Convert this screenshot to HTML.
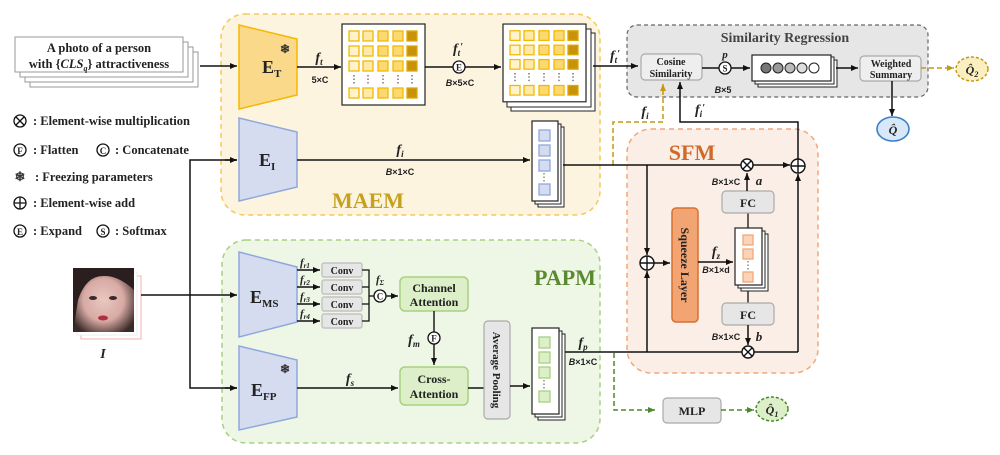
<!DOCTYPE html>
<html><head><meta charset="utf-8"><style>
html,body{margin:0;padding:0;background:#fff;width:1000px;height:455px;overflow:hidden}
svg text{font-family:"Liberation Serif",serif;font-weight:bold;fill:#222}
</style></head><body>
<svg width="1000" height="455" viewBox="0 0 1000 455" xmlns="http://www.w3.org/2000/svg">
<defs>
<marker id="ar" markerWidth="8" markerHeight="8" refX="7" refY="4" orient="auto" markerUnits="userSpaceOnUse"><path d="M0,1 L7,4 L0,7 z" fill="#111"/></marker>
<marker id="ag" markerWidth="8" markerHeight="8" refX="7" refY="4" orient="auto" markerUnits="userSpaceOnUse"><path d="M0,1 L7,4 L0,7 z" fill="#c39a10"/></marker>
<marker id="agr" markerWidth="8" markerHeight="8" refX="7" refY="4" orient="auto" markerUnits="userSpaceOnUse"><path d="M0,1 L7,4 L0,7 z" fill="#4a8a2a"/></marker>
</defs>

<!-- regions -->
<rect x="221" y="14" width="379" height="201" rx="24" fill="#fdf4df" stroke="#f5c85a" stroke-width="1.5" stroke-dasharray="5,4"/>
<rect x="222" y="240" width="378" height="203" rx="24" fill="#eef6e6" stroke="#a8d080" stroke-width="1.5" stroke-dasharray="5,4"/>
<rect x="627" y="129" width="191" height="244" rx="24" fill="#fbeee6" stroke="#f0a878" stroke-width="1.5" stroke-dasharray="5,4"/>
<rect x="627" y="25" width="301" height="72" rx="10" fill="#e6e6e6" stroke="#666" stroke-width="1.2" stroke-dasharray="4,3"/>

<text x="368" y="208" font-size="22" style="fill:#c8a020" text-anchor="middle">MAEM</text>
<text x="565" y="285" font-size="22" style="fill:#5a8a30" text-anchor="middle">PAPM</text>
<text x="692" y="160" font-size="22" style="fill:#d06a2a" text-anchor="middle">SFM</text>
<text x="785" y="42" font-size="14" style="fill:#444" text-anchor="middle">Similarity Regression</text>

<!-- text prompt stack -->
<rect x="30" y="52" width="168" height="35" fill="#fff" stroke="#999"/>
<rect x="25" y="47" width="168" height="35" fill="#fff" stroke="#999"/>
<rect x="20" y="42" width="168" height="35" fill="#fff" stroke="#999"/>
<rect x="15" y="37" width="168" height="35" fill="#fff" stroke="#999"/>
<text x="99" y="52" font-size="12.5" text-anchor="middle">A photo of a person</text>
<text x="99" y="68" font-size="12.5" text-anchor="middle">with {<tspan font-style="italic">CLS</tspan><tspan font-size="8" font-style="italic" dy="3">q</tspan><tspan dy="-3">} attractiveness</tspan></text>
<line x1="200" y1="66" x2="237" y2="66" stroke="#111" stroke-width="1.5" marker-end="url(#ar)"/>

<!-- legend -->
<g font-size="12.5">
<circle cx="20" cy="121" r="6" fill="none" stroke="#111" stroke-width="1.3"/><path d="M16,117 L24,125 M24,117 L16,125" stroke="#111" stroke-width="1.3"/>
<text x="33" y="125">: Element-wise multiplication</text>
<circle cx="20" cy="150" r="6" fill="none" stroke="#111" stroke-width="1.3"/><text x="20" y="154" font-size="9" text-anchor="middle">F</text>
<text x="33" y="154">: Flatten</text>
<circle cx="103" cy="150" r="6" fill="none" stroke="#111" stroke-width="1.3"/><text x="103" y="154" font-size="9" text-anchor="middle">C</text>
<text x="115" y="154">: Concatenate</text>
<text x="20" y="181" font-size="13" text-anchor="middle" style="fill:#333">❄</text>
<text x="35" y="181">: Freezing parameters</text>
<circle cx="20" cy="203" r="6" fill="none" stroke="#111" stroke-width="1.3"/><path d="M14,203 L26,203 M20,197 L20,209" stroke="#111" stroke-width="1.3"/>
<text x="33" y="207">: Element-wise add</text>
<circle cx="20" cy="231" r="6" fill="none" stroke="#111" stroke-width="1.3"/><text x="20" y="235" font-size="9" text-anchor="middle">E</text>
<text x="33" y="235">: Expand</text>
<circle cx="103" cy="231" r="6" fill="none" stroke="#111" stroke-width="1.3"/><text x="103" y="235" font-size="9" text-anchor="middle">S</text>
<text x="115" y="235">: Softmax</text>
</g>

<!-- E_T -->
<polygon points="239,25 297,39 297,95 239,109" fill="#fbd98a" stroke="#f5b800" stroke-width="1.5"/>
<text x="262" y="73" font-size="18">E<tspan font-size="11" dy="4">T</tspan></text>
<text x="285" y="53" font-size="12" text-anchor="middle" style="fill:#333">❄</text>
<line x1="297" y1="67" x2="341" y2="67" stroke="#111" stroke-width="1.5" marker-end="url(#ar)"/>
<text x="319" y="62" font-size="14" font-style="italic" text-anchor="middle">f<tspan font-size="9" dy="3">t</tspan></text>
<text x="320" y="83" font-size="9" text-anchor="middle" style="font-family:'Liberation Sans',sans-serif">5×C</text>

<!-- matrix -->
<g id="mat">
<rect x="342" y="24" width="83" height="81" fill="#fff" stroke="#222" stroke-width="1.2"/>
<g fill="#fde9a8" stroke="#f5b800" stroke-width="1.3">
<rect x="349" y="31" width="10" height="10" fill="#fff3cc"/><rect x="363" y="31" width="10" height="10"/><rect x="378" y="31" width="10" height="10" fill="#fcd870"/><rect x="393" y="31" width="10" height="10" fill="#fcd870"/><rect x="407" y="31" width="10" height="10" fill="#c8930a" stroke="#e0a800"/>
<rect x="349" y="46" width="10" height="10" fill="#fff3cc"/><rect x="363" y="46" width="10" height="10"/><rect x="378" y="46" width="10" height="10" fill="#fcd870"/><rect x="393" y="46" width="10" height="10" fill="#fcd870"/><rect x="407" y="46" width="10" height="10" fill="#c8930a" stroke="#e0a800"/>
<rect x="349" y="61" width="10" height="10" fill="#fff3cc"/><rect x="363" y="61" width="10" height="10"/><rect x="378" y="61" width="10" height="10" fill="#fcd870"/><rect x="393" y="61" width="10" height="10" fill="#fcd870"/><rect x="407" y="61" width="10" height="10" fill="#c8930a" stroke="#e0a800"/>
<rect x="349" y="88" width="10" height="10" fill="#fff3cc"/><rect x="363" y="88" width="10" height="10"/><rect x="378" y="88" width="10" height="10" fill="#fcd870"/><rect x="393" y="88" width="10" height="10" fill="#fcd870"/><rect x="407" y="88" width="10" height="10" fill="#c8930a" stroke="#e0a800"/>
</g>
<g stroke="#555" stroke-width="1.2" stroke-dasharray="1.5,2"><line x1="354" y1="75" x2="354" y2="84"/><line x1="368" y1="75" x2="368" y2="84"/><line x1="383" y1="75" x2="383" y2="84"/><line x1="398" y1="75" x2="398" y2="84"/><line x1="412" y1="75" x2="412" y2="84"/></g>
</g>
<line x1="425" y1="67" x2="453" y2="67" stroke="#111" stroke-width="1.5"/>
<circle cx="459" cy="67" r="6" fill="#fff" stroke="#111" stroke-width="1.3"/><text x="459" y="70.5" font-size="9" text-anchor="middle">E</text>
<line x1="465" y1="67" x2="501" y2="67" stroke="#111" stroke-width="1.5" marker-end="url(#ar)"/>
<text x="458" y="53" font-size="14" font-style="italic" text-anchor="middle">f<tspan font-size="9" dy="3">t</tspan><tspan dy="-6" font-size="10">′</tspan></text>
<text x="460" y="86" font-size="9" text-anchor="middle" style="font-family:'Liberation Sans',sans-serif"><tspan font-style="italic">B</tspan>×5×C</text>

<!-- stacked matrix -->
<rect x="511" y="33" width="84" height="78" fill="#fff" stroke="#222"/>
<rect x="507" y="29" width="84" height="78" fill="#fff" stroke="#222"/>
<use href="#mat" transform="translate(161,1) scale(1,0.96)"/>
<line x1="593" y1="66" x2="638" y2="66" stroke="#111" stroke-width="1.5" marker-end="url(#ar)"/>
<text x="615" y="60" font-size="14" font-style="italic" text-anchor="middle">f<tspan font-size="9" dy="3">t</tspan><tspan dy="-6" font-size="10">′</tspan></text>

<!-- similarity regression -->
<rect x="641" y="54" width="61" height="26" rx="4" fill="#eee" stroke="#aaa" stroke-width="1.2"/>
<text x="671" y="65" font-size="10" text-anchor="middle">Cosine</text>
<text x="671" y="77" font-size="10" text-anchor="middle">Similarity</text>
<line x1="702" y1="68" x2="719" y2="68" stroke="#111" stroke-width="1.5"/>
<circle cx="725" cy="68" r="6" fill="#fff" stroke="#111" stroke-width="1.3"/><text x="725" y="71.5" font-size="9" text-anchor="middle">S</text>
<text x="725" y="58" font-size="11" font-style="italic" text-anchor="middle">p</text>
<text x="723" y="93" font-size="9" text-anchor="middle" style="font-family:'Liberation Sans',sans-serif"><tspan font-style="italic">B</tspan>×5</text>
<line x1="731" y1="68" x2="750" y2="68" stroke="#111" stroke-width="1.5" marker-end="url(#ar)"/>
<rect x="758" y="60" width="79" height="27" fill="#fff" stroke="#222"/>
<rect x="755" y="57" width="79" height="27" fill="#fff" stroke="#222"/>
<rect x="752" y="55" width="79" height="26" fill="#fff" stroke="#222" stroke-width="1.2"/>
<circle cx="766" cy="68" r="5" fill="#777" stroke="#222"/><circle cx="778" cy="68" r="5" fill="#999" stroke="#222"/><circle cx="790" cy="68" r="5" fill="#bbb" stroke="#222"/><circle cx="802" cy="68" r="5" fill="#ddd" stroke="#222"/><circle cx="814" cy="68" r="5" fill="#fff" stroke="#222"/>
<line x1="836" y1="68" x2="858" y2="68" stroke="#111" stroke-width="1.5" marker-end="url(#ar)"/>
<rect x="860" y="56" width="61" height="25" rx="4" fill="#eee" stroke="#aaa" stroke-width="1.2"/>
<text x="891" y="67" font-size="10" text-anchor="middle">Weighted</text>
<text x="891" y="78" font-size="10" text-anchor="middle">Summary</text>
<line x1="921" y1="68" x2="954" y2="68" stroke="#c39a10" stroke-width="1.5" stroke-dasharray="5,3" marker-end="url(#ag)"/>
<ellipse cx="972" cy="69" rx="16" ry="12" fill="#fbeec0" stroke="#c39a10" stroke-width="1.5" stroke-dasharray="3,2"/>
<text x="972" y="74" font-size="12" font-style="italic" text-anchor="middle">Q̂<tspan font-size="8" dy="3">2</tspan></text>
<line x1="892" y1="81" x2="892" y2="116" stroke="#111" stroke-width="1.5" marker-end="url(#ar)"/>
<ellipse cx="893" cy="129" rx="16" ry="12" fill="#d8e8f8" stroke="#3a80c8" stroke-width="1.6"/>
<text x="893" y="134" font-size="12" font-style="italic" text-anchor="middle">Q̂</text>

<!-- fi dashed & fi' -->
<polyline points="613,165 613,122 663,122 663,84" fill="none" stroke="#c39a10" stroke-width="1.5" stroke-dasharray="5,3" marker-end="url(#ag)"/>
<text x="645" y="116" font-size="14" font-style="italic" text-anchor="middle">f<tspan font-size="9" dy="3">i</tspan></text>
<polyline points="798,160 798,122 680,122 680,82" fill="none" stroke="#111" stroke-width="1.5" marker-end="url(#ar)"/>
<text x="700" y="114" font-size="14" font-style="italic" text-anchor="middle">f<tspan font-size="9" dy="3">i</tspan><tspan dy="-6" font-size="10">′</tspan></text>

<!-- E_I -->
<polygon points="239,118 297,132 297,187 239,201" fill="#d5dcf0" stroke="#8fa8dc" stroke-width="1.5"/>
<text x="259" y="166" font-size="18">E<tspan font-size="11" dy="4">I</tspan></text>
<line x1="297" y1="160" x2="530" y2="160" stroke="#111" stroke-width="1.5" marker-end="url(#ar)"/>
<text x="400" y="154" font-size="14" font-style="italic" text-anchor="middle">f<tspan font-size="9" dy="3">i</tspan></text>
<text x="400" y="175" font-size="9" text-anchor="middle" style="font-family:'Liberation Sans',sans-serif"><tspan font-style="italic">B</tspan>×1×C</text>
<!-- blue stack -->
<rect x="538" y="127" width="26" height="80" fill="#fff" stroke="#222"/>
<rect x="535" y="124" width="26" height="80" fill="#fff" stroke="#222"/>
<rect x="532" y="121" width="26" height="80" fill="#fff" stroke="#222" stroke-width="1.2"/>
<g fill="#d5dcf0" stroke="#8fa8dc" stroke-width="1.3"><rect x="539" y="130" width="11" height="11"/><rect x="539" y="145" width="11" height="11"/><rect x="539" y="160" width="11" height="11"/><rect x="539" y="184" width="11" height="11"/></g>
<line x1="544" y1="173" x2="544" y2="182" stroke="#555" stroke-dasharray="1.5,2"/>

<!-- SFM internals -->
<line x1="563" y1="165" x2="742" y2="165" stroke="#111" stroke-width="1.5"/>
<circle cx="747" cy="165" r="6" fill="#fff" stroke="#111" stroke-width="1.4"/><path d="M743,161 L751,169 M751,161 L743,169" stroke="#111" stroke-width="1.4"/>
<line x1="753" y1="165" x2="790" y2="165" stroke="#111" stroke-width="1.5" marker-end="url(#ar)"/>
<circle cx="798" cy="166" r="7" fill="#fff" stroke="#111" stroke-width="1.4"/><path d="M791,166 L805,166 M798,159 L798,173" stroke="#111" stroke-width="1.4"/>
<line x1="798" y1="352" x2="798" y2="174" stroke="#111" stroke-width="1.5" marker-end="url(#ar)"/>
<line x1="647" y1="165" x2="647" y2="255" stroke="#111" stroke-width="1.5" marker-end="url(#ar)"/>
<line x1="647" y1="352" x2="647" y2="271" stroke="#111" stroke-width="1.5" marker-end="url(#ar)"/>
<circle cx="647" cy="263" r="7" fill="#fff" stroke="#111" stroke-width="1.4"/><path d="M640,263 L654,263 M647,256 L647,270" stroke="#111" stroke-width="1.4"/>
<line x1="654" y1="263" x2="670" y2="263" stroke="#111" stroke-width="1.5" marker-end="url(#ar)"/>
<rect x="672" y="208" width="26" height="114" rx="4" fill="#f2a472" stroke="#d87030" stroke-width="1.5"/>
<text transform="translate(681,265) rotate(90)" font-size="12" text-anchor="middle" style="fill:#222">Squeeze Layer</text>
<line x1="698" y1="262" x2="733" y2="262" stroke="#111" stroke-width="1.5" marker-end="url(#ar)"/>
<text x="716" y="256" font-size="14" font-style="italic" text-anchor="middle">f<tspan font-size="9" dy="3">z</tspan></text>
<text x="716" y="273" font-size="9" text-anchor="middle" style="font-family:'Liberation Sans',sans-serif"><tspan font-style="italic">B</tspan>×1×d</text>
<line x1="748" y1="213" x2="748" y2="303" stroke="#111" stroke-width="1.3"/>
<rect x="741" y="234" width="27" height="57" fill="#fff" stroke="#222"/>
<rect x="738" y="231" width="27" height="57" fill="#fff" stroke="#222"/>
<rect x="735" y="228" width="27" height="57" fill="#fff" stroke="#222" stroke-width="1.2"/>
<g fill="#fbd3b8" stroke="#f0a878" stroke-width="1.3"><rect x="743" y="235" width="10" height="10"/><rect x="743" y="249" width="10" height="10"/><rect x="743" y="272" width="10" height="10"/></g>
<line x1="748" y1="261" x2="748" y2="270" stroke="#555" stroke-dasharray="1.5,2"/>
<rect x="722" y="191" width="52" height="22" rx="4" fill="#e6e6e6" stroke="#aaa" stroke-width="1.2"/>
<text x="748" y="207" font-size="12" text-anchor="middle">FC</text>
<rect x="722" y="303" width="52" height="22" rx="4" fill="#e6e6e6" stroke="#aaa" stroke-width="1.2"/>
<text x="748" y="319" font-size="12" text-anchor="middle">FC</text>
<line x1="747" y1="191" x2="747" y2="173" stroke="#111" stroke-width="1.5" marker-end="url(#ar)"/>
<line x1="748" y1="325" x2="748" y2="345" stroke="#111" stroke-width="1.5" marker-end="url(#ar)"/>
<text x="726" y="185" font-size="9" text-anchor="middle" style="font-family:'Liberation Sans',sans-serif"><tspan font-style="italic">B</tspan>×1×C</text>
<text x="759" y="185" font-size="13" font-style="italic" text-anchor="middle">a</text>
<text x="726" y="340" font-size="9" text-anchor="middle" style="font-family:'Liberation Sans',sans-serif"><tspan font-style="italic">B</tspan>×1×C</text>
<text x="759" y="341" font-size="13" font-style="italic" text-anchor="middle">b</text>
<line x1="563" y1="352" x2="798" y2="352" stroke="#111" stroke-width="1.5"/>
<circle cx="748" cy="352" r="6" fill="#fff" stroke="#111" stroke-width="1.4"/><path d="M744,348 L752,356 M752,348 L744,356" stroke="#111" stroke-width="1.4"/>

<!-- input image -->
<rect x="81" y="276" width="60" height="63" fill="#fff" stroke="#f6b0b0"/>
<rect x="77" y="272" width="60" height="63" fill="#fff" stroke="#eee"/>
<defs><radialGradient id="face" cx="0.5" cy="0.5" r="0.6"><stop offset="0" stop-color="#e8c8c0"/><stop offset="0.55" stop-color="#d8aaa4"/><stop offset="1" stop-color="#3a2a28"/></radialGradient></defs>
<rect x="73" y="268" width="61" height="64" fill="url(#face)"/>
<path d="M73,268 L134,268 L134,290 Q118,275 103,276 Q86,276 78,300 L73,332 z" fill="#2a1e1e"/>
<ellipse cx="93" cy="298" rx="4" ry="2" fill="#3a2a2a"/><ellipse cx="113" cy="298" rx="4" ry="2" fill="#3a2a2a"/>
<ellipse cx="103" cy="318" rx="5" ry="2.5" fill="#b03040"/>
<text x="103" y="358" font-size="14" font-style="italic" text-anchor="middle">I</text>
<line x1="141" y1="295" x2="237" y2="295" stroke="#111" stroke-width="1.5" marker-end="url(#ar)"/>
<polyline points="237,160 190,160 190,388 237,388" fill="none" stroke="#111" stroke-width="1.5"/>
<line x1="225" y1="160" x2="237" y2="160" stroke="#111" stroke-width="1.5" marker-end="url(#ar)"/>
<line x1="225" y1="388" x2="237" y2="388" stroke="#111" stroke-width="1.5" marker-end="url(#ar)"/>

<!-- E_MS -->
<polygon points="239,252 297,267 297,322 239,337" fill="#d5dcf0" stroke="#8fa8dc" stroke-width="1.5"/>
<text x="250" y="303" font-size="18">E<tspan font-size="11" dy="4">MS</tspan></text>
<!-- E_FP -->
<polygon points="239,346 297,360 297,417 239,430" fill="#d5dcf0" stroke="#8fa8dc" stroke-width="1.5"/>
<text x="251" y="396" font-size="18">E<tspan font-size="11" dy="4">FP</tspan></text>
<text x="285" y="373" font-size="12" text-anchor="middle" style="fill:#333">❄</text>

<!-- conv branches -->
<g font-size="11" font-style="italic">
<text x="300" y="266">f<tspan font-size="7" dy="2">r1</tspan></text>
<text x="300" y="283">f<tspan font-size="7" dy="2">r2</tspan></text>
<text x="300" y="300">f<tspan font-size="7" dy="2">r3</tspan></text>
<text x="300" y="317">f<tspan font-size="7" dy="2">r4</tspan></text>
</g>
<g stroke="#111" stroke-width="1.4">
<line x1="297" y1="270" x2="320" y2="270" marker-end="url(#ar)"/>
<line x1="297" y1="287" x2="320" y2="287" marker-end="url(#ar)"/>
<line x1="297" y1="304" x2="320" y2="304" marker-end="url(#ar)"/>
<line x1="297" y1="321" x2="320" y2="321" marker-end="url(#ar)"/>
</g>
<g fill="#e6e6e6" stroke="#bbb" stroke-width="1.2">
<rect x="322" y="263" width="40" height="14" rx="2"/><rect x="322" y="280" width="40" height="14" rx="2"/><rect x="322" y="297" width="40" height="14" rx="2"/><rect x="322" y="314" width="40" height="14" rx="2"/>
</g>
<g font-size="10" text-anchor="middle"><text x="342" y="274">Conv</text><text x="342" y="291">Conv</text><text x="342" y="308">Conv</text><text x="342" y="325">Conv</text></g>
<polyline points="362,270 369,270 369,321 362,321" fill="none" stroke="#111" stroke-width="1.3"/>
<line x1="362" y1="287" x2="369" y2="287" stroke="#111" stroke-width="1.3"/>
<line x1="362" y1="304" x2="369" y2="304" stroke="#111" stroke-width="1.3"/>
<line x1="369" y1="296" x2="374" y2="296" stroke="#111" stroke-width="1.3"/>
<circle cx="380" cy="296" r="6" fill="#fff" stroke="#111" stroke-width="1.3"/><text x="380" y="299.5" font-size="9" text-anchor="middle">C</text>
<text x="380" y="283" font-size="11" font-style="italic" text-anchor="middle">f<tspan font-size="7" dy="2">Σ</tspan></text>
<line x1="386" y1="296" x2="398" y2="296" stroke="#111" stroke-width="1.4" marker-end="url(#ar)"/>
<rect x="400" y="277" width="68" height="34" rx="5" fill="#dcefc8" stroke="#a8d080" stroke-width="1.5"/>
<text x="434" y="292" font-size="12" text-anchor="middle">Channel</text>
<text x="434" y="306" font-size="12" text-anchor="middle">Attention</text>
<line x1="434" y1="311" x2="434" y2="332" stroke="#111" stroke-width="1.4"/>
<circle cx="434" cy="338" r="6" fill="#fff" stroke="#111" stroke-width="1.3"/><text x="434" y="341.5" font-size="9" text-anchor="middle">F</text>
<line x1="434" y1="344" x2="434" y2="365" stroke="#111" stroke-width="1.4" marker-end="url(#ar)"/>
<text x="414" y="344" font-size="14" font-style="italic" text-anchor="middle">f<tspan font-size="9" dy="3">m</tspan></text>
<rect x="400" y="367" width="68" height="38" rx="5" fill="#dcefc8" stroke="#a8d080" stroke-width="1.5"/>
<text x="434" y="383" font-size="12" text-anchor="middle">Cross-</text>
<text x="434" y="398" font-size="12" text-anchor="middle">Attention</text>
<line x1="297" y1="388" x2="398" y2="388" stroke="#111" stroke-width="1.5" marker-end="url(#ar)"/>
<text x="350" y="383" font-size="14" font-style="italic" text-anchor="middle">f<tspan font-size="9" dy="3">s</tspan></text>
<line x1="468" y1="388" x2="484" y2="388" stroke="#111" stroke-width="1.5"/>
<rect x="484" y="321" width="26" height="98" rx="4" fill="#e6e6e6" stroke="#aaa" stroke-width="1.2"/>
<text transform="translate(493,370) rotate(90)" font-size="11" text-anchor="middle">Average Pooling</text>
<line x1="510" y1="386" x2="530" y2="386" stroke="#111" stroke-width="1.5" marker-end="url(#ar)"/>
<!-- green stack -->
<rect x="538" y="334" width="27" height="86" fill="#fff" stroke="#222"/>
<rect x="535" y="331" width="27" height="86" fill="#fff" stroke="#222"/>
<rect x="532" y="328" width="27" height="86" fill="#fff" stroke="#222" stroke-width="1.2"/>
<g fill="#dcefc8" stroke="#a8d080" stroke-width="1.3"><rect x="539" y="337" width="11" height="11"/><rect x="539" y="352" width="11" height="11"/><rect x="539" y="367" width="11" height="11"/><rect x="539" y="391" width="11" height="11"/></g>
<line x1="544" y1="380" x2="544" y2="389" stroke="#555" stroke-dasharray="1.5,2"/>
<text x="583" y="347" font-size="14" font-style="italic" text-anchor="middle">f<tspan font-size="9" dy="3">p</tspan></text>
<text x="583" y="365" font-size="9" text-anchor="middle" style="font-family:'Liberation Sans',sans-serif"><tspan font-style="italic">B</tspan>×1×C</text>

<polyline points="614,353 614,410 655,410" fill="none" stroke="#4a8a2a" stroke-width="1.5" stroke-dasharray="5,3" marker-end="url(#agr)"/>
<rect x="663" y="398" width="58" height="25" rx="4" fill="#e6e6e6" stroke="#aaa" stroke-width="1.2"/>
<text x="692" y="415" font-size="12" text-anchor="middle">MLP</text>
<line x1="721" y1="410" x2="754" y2="410" stroke="#4a8a2a" stroke-width="1.5" stroke-dasharray="5,3" marker-end="url(#agr)"/>
<ellipse cx="772" cy="409" rx="16" ry="12" fill="#dcefc8" stroke="#4a8a2a" stroke-width="1.5" stroke-dasharray="3,2"/>
<text x="772" y="414" font-size="12" font-style="italic" text-anchor="middle">Q̂<tspan font-size="8" dy="3">1</tspan></text>
</svg>
</body></html>
